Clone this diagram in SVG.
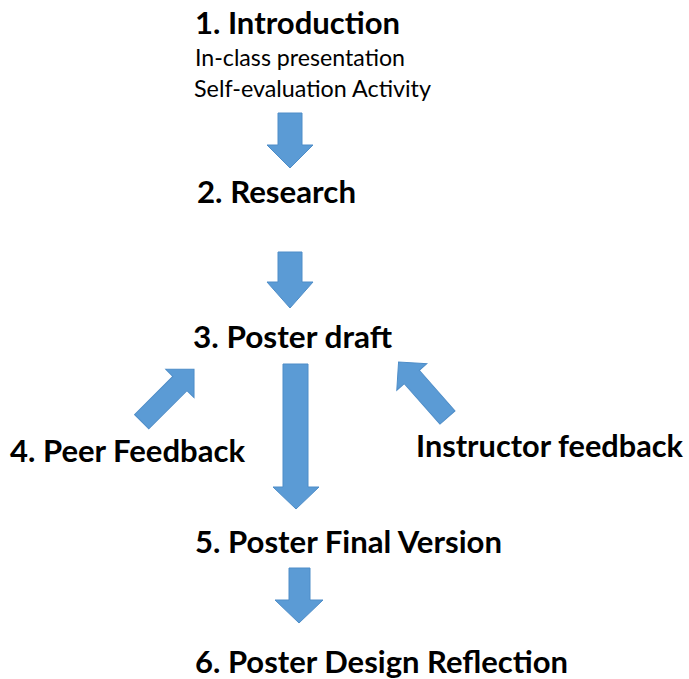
<svg xmlns="http://www.w3.org/2000/svg" width="689" height="679" viewBox="0 0 689 679">
<style>
.h{font-family:Lato,"Open Sans","Liberation Sans",sans-serif;font-weight:bold;font-size:30px;fill:#000}
.s{font-family:Lato,"Open Sans","Liberation Sans",sans-serif;font-size:23px;fill:#000}
.ar{fill:#5B9BD5;stroke:#4E8DC8;stroke-width:1;stroke-linejoin:miter}
</style>
<rect width="689" height="679" fill="#fff"/>
<g id="connectors">
<polygon class="ar" points="278,113 302,113 302,145 313,145 290,168 267,145 278,145"/>
<polygon class="ar" points="278,252 302,252 302,282 313,282 290,308 267,282 278,282"/>
<polygon class="ar" points="283,364 308,364 308,487 319,487 296,509 273,487 283,487"/>
<polygon class="ar" points="289,568 310,568 310,600 323,600 299,623 275,600 289,600"/>
<path class="ar" transform="translate(141.7,421.7) rotate(-45)" d="M0,-10 L54,-10 L54,-20 L74,0 L54,20 L54,10 L0,10 Z"/>
<path class="ar" transform="translate(447.5,417.5) rotate(-131.4)" d="M0,-10 L54,-10 L54,-20 L74,0 L54,20 L54,10 L0,10 Z"/>
</g>
<g id="n1">
<text class="h" x="195" y="34" textLength="205" lengthAdjust="spacingAndGlyphs">1. Introduction</text>
<text class="s" x="195" y="66" textLength="210" lengthAdjust="spacingAndGlyphs">In-class presentation</text>
<text class="s" x="194" y="97" textLength="237" lengthAdjust="spacingAndGlyphs">Self-evaluation Activity</text>
</g>
<g id="n2"><text class="h" x="197" y="203" textLength="159" lengthAdjust="spacingAndGlyphs">2. Research</text></g>
<g id="n3"><text class="h" x="193" y="348" textLength="199" lengthAdjust="spacingAndGlyphs">3. Poster draft</text></g>
<g id="n4"><text class="h" x="10" y="462" textLength="235" lengthAdjust="spacingAndGlyphs">4. Peer Feedback</text></g>
<g id="n4b"><text class="h" x="416" y="457" textLength="267" lengthAdjust="spacingAndGlyphs">Instructor feedback</text></g>
<g id="n5"><text class="h" x="195" y="553" textLength="307" lengthAdjust="spacingAndGlyphs">5. Poster Final Version</text></g>
<g id="n6"><text class="h" x="195" y="673" textLength="373" lengthAdjust="spacingAndGlyphs">6. Poster Design Reflection</text></g>
</svg>
